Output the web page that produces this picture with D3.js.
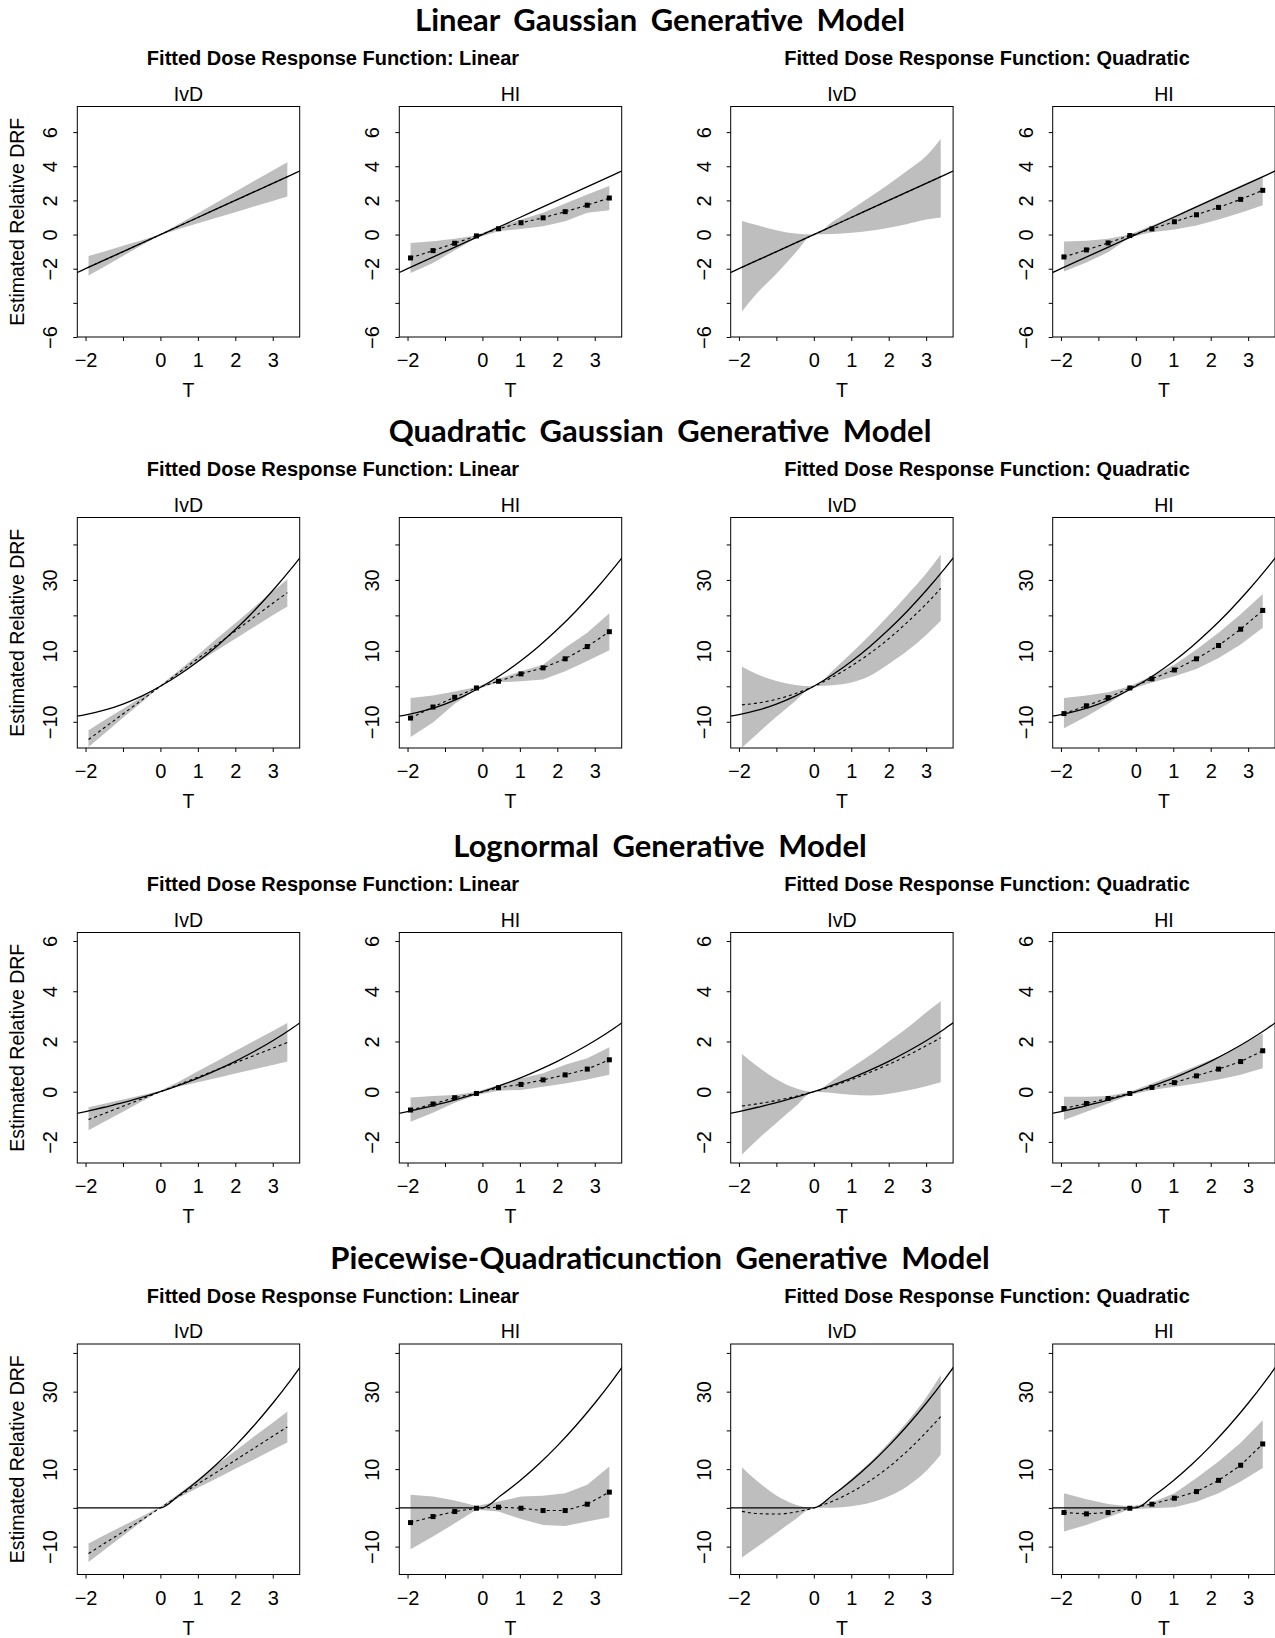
<!DOCTYPE html>
<html>
<head>
<meta charset="utf-8">
<script src="https://cdn.jsdelivr.net/npm/d3@7"></script>
<style>
  body { margin: 0; background: #fff; }
  text { font-family: "Liberation Sans", Arial, sans-serif; fill: #000; }
  .maintitle { font-family: Lato, "Open Sans", sans-serif; font-weight: bold; font-size: 31px; word-spacing: 6px; }
  .subtitle { font-weight: bold; font-size: 20px; }
  .ptitle, .axlab { font-size: 19.5px; }
  .tick text { font-size: 20px; }
</style>
</head>
<body>
<svg id="chart" width="1275" height="1638"></svg>
<script>
// ---------- labels ----------
var rowTitles = ["Linear Gaussian Generative Model", "Quadratic Gaussian Generative Model",
                 "Lognormal Generative Model", "Piecewise-Quadraticunction Generative Model"];
var fitTitles = ["Fitted Dose Response Function: Linear", "Fitted Dose Response Function: Quadratic"];
var methods = ["IvD", "HI", "IvD", "HI"];

// ---------- axes ----------
var xTicks = [-2, -1, 0, 1, 2, 3];
var xTickLabels = ["\u22122", "", "0", "1", "2", "3"];
var yTicksLin = [-6, -4, -2, 0, 2, 4, 6];
var yLabelsLin = ["\u22126", "", "\u22122", "0", "2", "4", "6"];
var yTicksQuad = [-10, 0, 10, 20, 30, 40];
var yLabelsQuad = ["\u221210", "", "10", "", "30", ""];
var yTicksLogn = [-2, 0, 2, 4, 6];
var yLabelsLogn = ["\u22122", "0", "2", "4", "6"];

// ---------- x grids ----------
var gridTrue = [-2.25, -2, -1.5, -1, -0.5, 0, 0.5, 1, 1.5, 2, 2.5, 3, 3.5, 3.75];
var gridIvd = [-1.92, -1.5, -1, -0.5, 0, 0.5, 1, 1.5, 2, 2.5, 3, 3.39];
var gridHi = [-1.92, -1.32, -0.74, -0.16, 0.43, 1.03, 1.62, 2.21, 2.80, 3.39];

// ---------- true dose response ----------
var trueLin = [-2.25, -2, -1.5, -1, -0.5, 0, 0.5, 1, 1.5, 2, 2.5, 3, 3.5, 3.75];
var trueQuad = [-8.44, -8, -6.75, -5, -2.75, 0, 3.25, 7, 11.25, 16, 21.25, 27, 33.25, 36.56];
var trueLogn = [-0.87, -0.79, -0.62, -0.44, -0.23, 0, 0.26, 0.54, 0.86, 1.21, 1.6, 2.03, 2.51, 2.77];
var truePw = [0, 0, 0, 0, 0, 0, 3.25, 7, 11.25, 16, 21.25, 27, 33.25, 36.56];

// ---------- row 1 : linear gaussian ----------
var linLIvdEst = [-1.92, -1.5, -1, -0.5, 0, 0.5, 1, 1.5, 2, 2.5, 3, 3.39];
var linLIvdLow = [-2.40, -1.88, -1.25, -0.63, -0.02, 0.33, 0.66, 0.99, 1.31, 1.64, 1.97, 2.23];
var linLIvdUp = [-1.26, -0.99, -0.66, -0.33, 0.02, 0.63, 1.25, 1.88, 2.50, 3.13, 3.75, 4.24];
var linLHiEst = [-1.37, -0.94, -0.51, -0.08, 0.34, 0.69, 0.98, 1.34, 1.72, 2.14];
var linLHiLow = [-2.25, -1.67, -0.92, -0.20, 0.19, 0.33, 0.49, 0.78, 1.27, 1.43];
var linLHiUp = [-0.49, -0.39, -0.25, -0.06, 0.49, 0.88, 1.27, 1.82, 2.35, 2.84];
var linQIvdEst = [-1.92, -1.5, -1, -0.5, 0, 0.5, 1, 1.5, 2, 2.5, 3, 3.39];
var linQIvdLow = [-4.5, -3.4, -2.3, -1.1, 0, 0.03, 0.1, 0.22, 0.4, 0.62, 0.88, 1.0];
var linQIvdUp = [0.8, 0.55, 0.25, 0.06, 0, 0.75, 1.47, 2.2, 2.94, 3.75, 4.6, 5.6];
var linQHiEst = [-1.31, -0.90, -0.49, -0.06, 0.33, 0.75, 1.16, 1.59, 2.06, 2.59];
var linQHiLow = [-2.16, -1.63, -1.04, -0.16, 0.14, 0.29, 0.53, 0.88, 1.27, 1.71];
var linQHiUp = [-0.41, -0.37, -0.25, 0, 0.53, 1.08, 1.67, 2.29, 2.88, 3.43];

// ---------- row 2 : quadratic gaussian ----------
var quadLIvdEst = [-15.0, -11.7, -7.8, -3.9, 0, 3.9, 7.8, 11.7, 15.6, 19.5, 23.4, 26.4];
var quadLIvdLow = [-17.1, -13.4, -8.9, -4.5, 0.0, 3.5, 6.8, 10.1, 13.4, 16.7, 20.0, 22.5];
var quadLIvdUp = [-12.4, -9.6, -6.3, -3.0, 0.3, 4.5, 8.9, 13.4, 17.8, 22.3, 26.7, 30.2];
var quadLHiEst = [-8.95, -5.84, -3.1, -0.47, 1.42, 3.5, 5.2, 7.75, 11.2, 15.4];
var quadLHiLow = [-14.3, -10.2, -4.9, -0.93, 1.13, 1.4, 1.9, 4.25, 7.1, 10.2];
var quadLHiUp = [-3.3, -2.6, -1.5, -0.2, 2.1, 4.25, 6.1, 10.9, 15.1, 20.6];
var quadQIvdEst = [-5.23, -4.72, -3.66, -2.08, 0, 2.6, 5.7, 9.3, 13.4, 18.1, 23.2, 27.6];
var quadQIvdLow = [-17.3, -13.3, -8.6, -4.2, 0, 0.3, 1.1, 3.0, 6.3, 10.0, 14.5, 18.5];
var quadQIvdUp = [5.5, 3.3, 1.5, 0.4, 0, 4.4, 9.3, 14.5, 20.0, 25.8, 31.8, 37.2];
var quadQHiEst = [-7.7, -5.5, -3.2, -0.47, 2.1, 4.6, 7.75, 11.5, 16.1, 21.4];
var quadQHiLow = [-11.8, -8.5, -4.9, -0.9, 1.1, 2.8, 4.9, 8.0, 11.8, 16.5];
var quadQHiUp = [-3.3, -2.6, -1.7, 0, 3.0, 6.1, 10.4, 15.1, 20.3, 26.0];

// ---------- row 3 : lognormal ----------
var lognLIvdEst = [-1.11, -0.87, -0.58, -0.29, 0, 0.29, 0.58, 0.87, 1.15, 1.44, 1.73, 1.96];
var lognLIvdLow = [-1.54, -1.2, -0.8, -0.39, 0.01, 0.21, 0.38, 0.55, 0.72, 0.89, 1.06, 1.2];
var lognLIvdUp = [-0.62, -0.48, -0.31, -0.14, 0.04, 0.41, 0.81, 1.21, 1.62, 2.02, 2.42, 2.74];
var lognLHiEst = [-0.73, -0.49, -0.24, -0.07, 0.16, 0.29, 0.47, 0.67, 0.9, 1.27];
var lognLHiLow = [-1.2, -0.84, -0.44, -0.13, 0.04, 0.07, 0.2, 0.33, 0.49, 0.67];
var lognLHiUp = [-0.23, -0.17, -0.13, 0, 0.27, 0.53, 0.73, 1.07, 1.33, 1.77];
var lognQIvdEst = [-0.57, -0.48, -0.35, -0.19, 0, 0.22, 0.48, 0.77, 1.09, 1.44, 1.83, 2.15];
var lognQIvdLow = [-2.5, -1.9, -1.25, -0.6, 0, -0.05, -0.12, -0.15, -0.08, 0.05, 0.22, 0.38];
var lognQIvdUp = [1.5, 1.0, 0.5, 0.15, 0, 0.45, 0.95, 1.45, 2.0, 2.55, 3.15, 3.6];
var lognQHiEst = [-0.67, -0.47, -0.27, -0.07, 0.17, 0.36, 0.63, 0.9, 1.2, 1.63];
var lognQHiLow = [-1.13, -0.8, -0.47, -0.13, 0.07, 0.2, 0.33, 0.49, 0.67, 0.93];
var lognQHiUp = [-0.2, -0.2, -0.17, 0, 0.33, 0.67, 1.03, 1.4, 1.83, 2.33];

// ---------- row 4 : piecewise quadratic ----------
var pwLIvdEst = [-11.8, -9.2, -6.2, -3.1, 0, 3.1, 6.2, 9.2, 12.3, 15.4, 18.5, 20.9];
var pwLIvdLow = [-14.0, -10.9, -7.2, -3.6, 0.1, 2.7, 5.2, 7.6, 10.1, 12.5, 15.0, 16.9];
var pwLIvdUp = [-9.2, -7.1, -4.6, -2.2, 0.3, 3.7, 7.4, 11.1, 14.7, 18.4, 22.0, 24.9];
var pwLHiEst = [-3.8, -2.25, -0.95, -0.1, 0.17, -0.1, -0.69, -0.69, 0.95, 4.06];
var pwLHiLow = [-10.7, -7.4, -4.0, -0.5, -0.95, -2.9, -4.4, -4.66, -3.5, -2.4];
var pwLHiUp = [3.37, 2.94, 1.9, 0.5, 1.64, 2.94, 3.1, 3.8, 5.96, 10.7];
var pwQIvdEst = [-0.9, -1.48, -1.6, -1.1, 0, 1.72, 4.04, 7.0, 10.5, 14.7, 19.5, 23.6];
var pwQIvdLow = [-12.8, -10.0, -6.5, -3.0, 0, 0.05, 0.4, 1.3, 3.0, 5.6, 9.5, 13.8];
var pwQIvdUp = [10.5, 6.8, 3.2, 0.9, 0, 3.3, 7.5, 11.8, 16.8, 22.3, 28.5, 34.3];
var pwQHiEst = [-1.2, -1.55, -1.2, -0.1, 0.95, 2.5, 4.2, 7.1, 11.0, 16.5];
var pwQHiLow = [-6.1, -4.4, -2.4, -0.35, -0.1, 0.17, 1.6, 3.8, 6.8, 10.3];
var pwQHiUp = [3.8, 2.25, 1.0, 0.35, 1.4, 3.8, 7.7, 12.0, 16.8, 22.6];

// ---------- build row / panel tables from the arrays ----------
var rows = [
    { yDomain: [-6, 7.5], ticks: yTicksLin, labels: yLabelsLin, truth: trueLin,
      panels: [[linLIvdEst, linLIvdLow, linLIvdUp], [linLHiEst, linLHiLow, linLHiUp],
               [linQIvdEst, linQIvdLow, linQIvdUp], [linQHiEst, linQHiLow, linQHiUp]] },
    { yDomain: [-17.4, 47.6], ticks: yTicksQuad, labels: yLabelsQuad, truth: trueQuad,
      panels: [[quadLIvdEst, quadLIvdLow, quadLIvdUp], [quadLHiEst, quadLHiLow, quadLHiUp],
               [quadQIvdEst, quadQIvdLow, quadQIvdUp], [quadQHiEst, quadQHiLow, quadQHiUp]] },
    { yDomain: [-2.84, 6.34], ticks: yTicksLogn, labels: yLabelsLogn, truth: trueLogn,
      panels: [[lognLIvdEst, lognLIvdLow, lognLIvdUp], [lognLHiEst, lognLHiLow, lognLHiUp],
               [lognQIvdEst, lognQIvdLow, lognQIvdUp], [lognQHiEst, lognQHiLow, lognQHiUp]] },
    { yDomain: [-17.2, 42.3], ticks: yTicksQuad, labels: yLabelsQuad, truth: truePw,
      panels: [[pwLIvdEst, pwLIvdLow, pwLIvdUp], [pwLHiEst, pwLHiLow, pwLHiUp],
               [pwQIvdEst, pwQIvdLow, pwQIvdUp], [pwQHiEst, pwQHiLow, pwQHiUp]] }
];

// ---------- layout ----------
var svg = d3.select("#chart");
var rowTops = [106.5, 517.5, 932.5, 1344];
var colLefts = [77.3, 399.3, 730.7, 1052.7];
var pw = 222.4, ph = 230.5;
var bandColor = "#bebebe";

var x = d3.scaleLinear().domain([-2.22, 3.72]).range([0, pw]);

rows.forEach(function (row, r) {
    var top = rowTops[r];

    svg.append("text").attr("class", "maintitle")
        .attr("x", 660).attr("y", top - 87.5)
        .attr("text-anchor", "middle").attr("dominant-baseline", "central")
        .text(rowTitles[r]);

    fitTitles.forEach(function (t, k) {
        svg.append("text").attr("class", "subtitle")
            .attr("x", k == 0 ? 333 : 987).attr("y", top - 48.5)
            .attr("text-anchor", "middle").attr("dominant-baseline", "central")
            .text(t);
    });

    var y = d3.scaleLinear().domain(row.yDomain).range([ph, 0]);

    row.panels.forEach(function (p, c) {
        var isHi = (c % 2 == 1);
        var isLinFit = (c < 2);
        var xs = isHi ? gridHi : gridIvd;
        var est = p[0], low = p[1], up = p[2];

        var g = svg.append("g").attr("transform", "translate(" + colLefts[c] + "," + top + ")");
        var clipId = "clip" + r + "_" + c;
        g.append("clipPath").attr("id", clipId)
            .append("rect").attr("width", pw).attr("height", ph);
        var plot = g.append("g").attr("clip-path", "url(#" + clipId + ")");

        // smooth curves for IvD quadratic fits, straight segments otherwise
        var curve = (!isHi && !isLinFit) ? d3.curveMonotoneX : d3.curveLinear;

        var area = d3.area()
            .x(function (d, i) { return x(xs[i]); })
            .y0(function (d, i) { return y(low[i]); })
            .y1(function (d, i) { return y(up[i]); })
            .curve(curve);
        plot.append("path").datum(xs).attr("d", area).attr("fill", bandColor);

        var estLine = d3.line()
            .x(function (d, i) { return x(xs[i]); })
            .y(function (d) { return y(d); })
            .curve(curve);
        plot.append("path").datum(est).attr("d", estLine)
            .attr("fill", "none").attr("stroke", "#000").attr("stroke-width", 1.1)
            .attr("stroke-dasharray", "3,3");

        var trueLine = d3.line()
            .x(function (d, i) { return x(gridTrue[i]); })
            .y(function (d) { return y(d); })
            .curve(d3.curveMonotoneX);
        plot.append("path").datum(row.truth).attr("d", trueLine)
            .attr("fill", "none").attr("stroke", "#000").attr("stroke-width", 1.3);

        if (isHi) {
            plot.selectAll("rect.pt").data(est).enter().append("rect")
                .attr("class", "pt")
                .attr("x", function (d, i) { return x(xs[i]) - 2.5; })
                .attr("y", function (d) { return y(d) - 2.5; })
                .attr("width", 5).attr("height", 5).attr("fill", "#000");
        }

        // frame
        g.append("rect").attr("width", pw).attr("height", ph)
            .attr("fill", "none").attr("stroke", "#000").attr("stroke-width", 1);

        // x axis
        var xa = g.append("g").attr("transform", "translate(0," + ph + ")")
            .call(d3.axisBottom(x).tickValues(xTicks)
                .tickFormat(function (d, i) { return xTickLabels[i]; })
                .tickSize(4).tickSizeOuter(0));
        xa.select(".domain").remove();
        xa.attr("font-size", null).attr("font-family", null);
        xa.selectAll(".tick text").attr("y", 23).attr("dy", null)
            .attr("dominant-baseline", "central");

        // y axis, labels parallel to the axis
        var ya = g.append("g")
            .call(d3.axisLeft(y).tickValues(row.ticks)
                .tickFormat(function (d, i) { return row.labels[i]; })
                .tickSize(4).tickSizeOuter(0));
        ya.select(".domain").remove();
        ya.attr("font-size", null).attr("font-family", null);
        ya.selectAll(".tick text")
            .attr("x", null).attr("dy", null)
            .attr("text-anchor", "middle").attr("dominant-baseline", "central")
            .attr("transform", "translate(-27,0) rotate(-90)");

        g.append("text").attr("class", "ptitle")
            .attr("x", pw / 2).attr("y", -13)
            .attr("text-anchor", "middle").attr("dominant-baseline", "central")
            .text(methods[c]);

        g.append("text").attr("class", "axlab")
            .attr("x", pw / 2).attr("y", ph + 53)
            .attr("text-anchor", "middle").attr("dominant-baseline", "central")
            .text("T");

        if (c == 0) {
            g.append("text").attr("class", "axlab")
                .attr("transform", "translate(" + (17 - colLefts[0]) + "," + (ph / 2) + ") rotate(-90)")
                .attr("text-anchor", "middle").attr("dominant-baseline", "central")
                .text("Estimated Relative DRF");
        }
    });
});
</script>
</body>
</html>
